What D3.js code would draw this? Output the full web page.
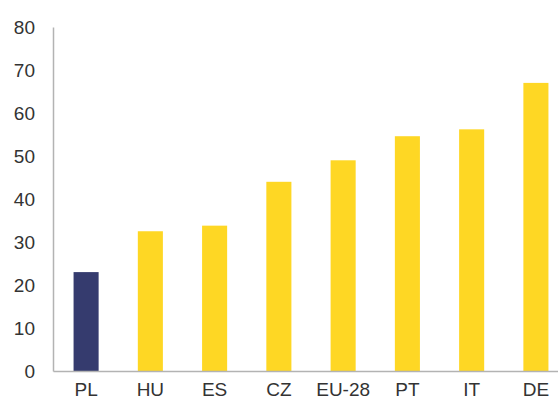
<!DOCTYPE html>
<html lang="en">
<head>
    <meta charset="UTF-8">
    <title>Bar chart</title>
    <script src="https://d3js.org/d3.v7.min.js"></script>
    <style>
        body { margin: 0; background: #fff; }
        svg { display: block; }
        .axis text {
            font-family: "Liberation Sans", Arial, sans-serif;
            font-size: 19px;
            fill: #333;
        }
    </style>
</head>
<body>
    <div id="chart"></div>

    <script>
        // datos
        var countries = ["PL", "HU", "ES", "CZ", "EU-28", "PT", "IT", "DE"];
        var values = [23.0, 32.5, 33.8, 44.0, 49.0, 54.6, 56.2, 67.0];
        var yTicks = [0, 10, 20, 30, 40, 50, 60, 70, 80];
        var highlight = "PL";

        var width = 558;
        var height = 401;

        var svg = d3.select("#chart").append("svg")
                    .attr("width", width)
                    .attr("height", height);

        var xScale = d3.scaleBand()
                       .domain(countries)
                       .range([53, 569])
                       .paddingInner(0.61)
                       .paddingOuter(0.32);

        var yScale = d3.scaleLinear()
                       .domain([0, 80])
                       .range([371, 27]);

        svg.selectAll("rect")
           .data(countries)
           .enter()
           .append("rect")
           .attr("x", function(d) { return xScale(d); })
           .attr("y", function(d, i) { return yScale(values[i]); })
           .attr("width", xScale.bandwidth())
           .attr("height", function(d, i) { return yScale(0) - yScale(values[i]); })
           .attr("fill", function(d) { return d === highlight ? "#353b6e" : "#fed724"; });

        // eje y
        var yAxis = svg.append("g")
           .attr("class", "axis")
           .attr("transform", "translate(53,0)")
           .call(d3.axisLeft(yScale).tickValues(yTicks).tickSize(0).tickPadding(18));
        yAxis.select(".domain").attr("stroke", "#b3b3b3").attr("stroke-width", 1.5);

        // eje x (un poco mas arriba para que no se corte abajo)
        var xAxis = svg.append("g")
           .attr("class", "axis")
           .attr("transform", "translate(0,371)")
           .call(d3.axisBottom(xScale).tickSize(0).tickPadding(12));
        xAxis.select(".domain").attr("stroke", "#b3b3b3").attr("stroke-width", 1.5);
    </script>
</body>
</html>
